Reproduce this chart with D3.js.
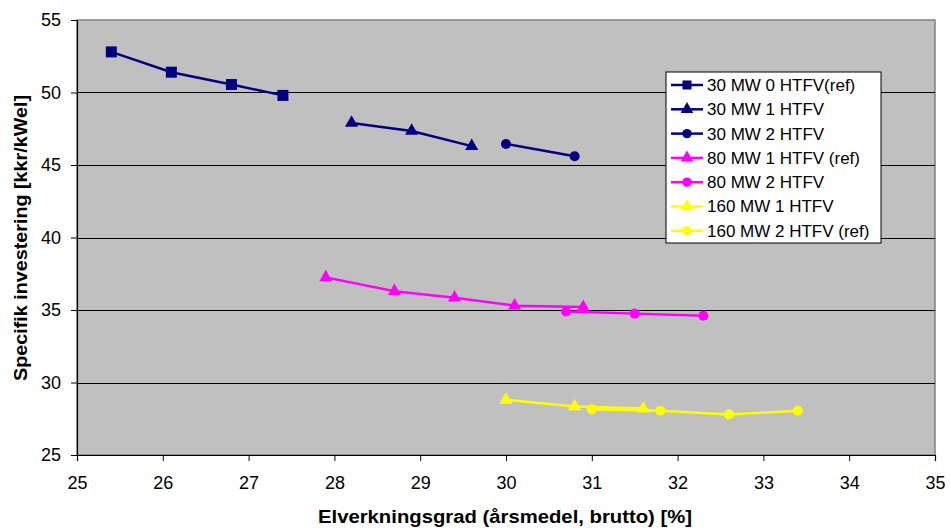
<!DOCTYPE html>
<head>
  <meta charset="utf-8">
  <title>Specifik investering</title>
  <style>
    body { margin: 0; background: #fff; }
    text { font-family: "Liberation Sans", Arial, sans-serif; }
  </style>
</head>
<body>
  <svg id="chart" width="950" height="530"></svg>
  <script src="https://d3js.org/d3.v7.min.js"></script>
  <script>
    /******* Data *******/
    var seriesNames = ["30 MW 0 HTFV(ref)", "30 MW 1 HTFV", "30 MW 2 HTFV",
                       "80 MW 1 HTFV (ref)", "80 MW 2 HTFV", "160 MW 1 HTFV", "160 MW 2 HTFV (ref)"];
    var seriesColors = ["#000080", "#000080", "#000080", "#FF00FF", "#FF00FF", "#FFFF00", "#FFFF00"];
    var seriesSymbols = ["square", "triangle", "circle", "triangle", "circle", "triangle", "circle"];

    var mw30_0 = [[25.4, 52.8], [26.1, 51.4], [26.8, 50.55], [27.4, 49.8]];
    var mw30_1 = [[28.2, 47.9], [28.9, 47.35], [29.6, 46.3]];
    var mw30_2 = [[30.0, 46.45], [30.8, 45.6]];
    var mw80_1 = [[27.9, 37.25], [28.7, 36.3], [29.4, 35.85], [30.1, 35.3], [30.9, 35.2]];
    var mw80_2 = [[30.7, 34.9], [31.5, 34.75], [32.3, 34.6]];
    var mw160_1 = [[30.0, 28.8], [30.8, 28.35], [31.6, 28.2]];
    var mw160_2 = [[31.0, 28.15], [31.8, 28.05], [32.6, 27.8], [33.4, 28.05]];
    var seriesData = [mw30_0, mw30_1, mw30_2, mw80_1, mw80_2, mw160_1, mw160_2];

    var xTicks = [25, 26, 27, 28, 29, 30, 31, 32, 33, 34, 35];
    var yTicks = [25, 30, 35, 40, 45, 50, 55];

    /******* Setup *******/
    var svg = d3.select("svg"),
        margin = {top: 20, right: 15, bottom: 75, left: 77},
        width = +svg.attr("width") - margin.left - margin.right,
        height = +svg.attr("height") - margin.top - margin.bottom,
        graph = svg.append("g").attr("transform", "translate(" + margin.left + "," + margin.top + ")");

    var x = d3.scaleLinear().domain([25, 35]).range([0, width]);
    var y = d3.scaleLinear().domain([25, 55]).range([height, 0]);

    //Plot background
    graph.append("rect")
      .attr("width", width)
      .attr("height", height)
      .attr("fill", "#C0C0C0")
      .attr("stroke", "#808080")
      .attr("stroke-width", 1.5);

    //Gridlines
    graph.append("g")
      .selectAll("line")
      .data(yTicks.slice(1, -1))
      .enter().append("line")
      .attr("x1", 0)
      .attr("x2", width)
      .attr("y1", function(d) { return Math.round(y(d)) + 0.5; })
      .attr("y2", function(d) { return Math.round(y(d)) + 0.5; })
      .attr("stroke", "#000")
      .attr("stroke-width", 1.2);

    //Axes
    var xAxis = graph.append("g")
      .attr("transform", "translate(0," + height + ")")
      .call(d3.axisBottom(x).tickValues(xTicks).tickSize(6).tickPadding(15).tickFormat(d3.format("d")));
    var yAxis = graph.append("g")
      .call(d3.axisLeft(y).tickValues(yTicks).tickSize(6).tickPadding(10).tickFormat(d3.format("d")));

    [xAxis, yAxis].forEach(function(a) {
      a.select(".domain").attr("stroke", "#000").attr("stroke-width", 1.2);
      a.selectAll(".tick line").attr("stroke", "#000");
      a.selectAll(".tick text")
        .attr("fill", "#000")
        .style("font", "18px 'Liberation Sans', Arial, sans-serif");
    });

    //Axis titles
    svg.append("text")
      .attr("x", 505)
      .attr("y", 523)
      .attr("text-anchor", "middle")
      .attr("textLength", 374)
      .attr("lengthAdjust", "spacingAndGlyphs")
      .style("font", "bold 18px 'Liberation Sans', Arial, sans-serif")
      .text("Elverkningsgrad (årsmedel, brutto) [%]");

    svg.append("text")
      .attr("transform", "translate(27,238) rotate(-90)")
      .attr("text-anchor", "middle")
      .attr("textLength", 286)
      .attr("lengthAdjust", "spacingAndGlyphs")
      .style("font", "bold 18px 'Liberation Sans', Arial, sans-serif")
      .text("Specifik investering [kkr/kWel]");

    /******* Series *******/
    var symbolType = {square: d3.symbolSquare, triangle: d3.symbolTriangle, circle: d3.symbolCircle};
    var symbolSize = {square: 121, triangle: 75, circle: 80};

    var line = d3.line()
      .x(function(d) { return x(d[0]); })
      .y(function(d) { return y(d[1]); });

    seriesData.forEach(function(data, i) {
      var g = graph.append("g");
      g.append("path")
        .datum(data)
        .attr("fill", "none")
        .attr("stroke", seriesColors[i])
        .attr("stroke-width", 2.5)
        .attr("d", line);
      g.selectAll("path.marker")
        .data(data)
        .enter().append("path")
        .attr("class", "marker")
        .attr("transform", function(d) { return "translate(" + x(d[0]) + "," + y(d[1]) + ")"; })
        .attr("d", d3.symbol().type(symbolType[seriesSymbols[i]]).size(symbolSize[seriesSymbols[i]]))
        .attr("fill", seriesColors[i]);
    });

    /******* Legend *******/
    var legend = svg.append("g").attr("transform", "translate(666,72)");
    legend.append("rect")
      .attr("width", 215)
      .attr("height", 171)
      .attr("fill", "#fff")
      .attr("stroke", "#000")
      .attr("stroke-width", 1);

    var items = legend.selectAll("g.item")
      .data(seriesNames)
      .enter().append("g")
      .attr("class", "item")
      .attr("transform", function(d, i) { return "translate(0," + (13 + i * 24.3) + ")"; });

    items.append("line")
      .attr("x1", 5).attr("x2", 37)
      .attr("stroke", function(d, i) { return seriesColors[i]; })
      .attr("stroke-width", 2.5);
    items.append("path")
      .attr("transform", "translate(21,0)")
      .attr("d", function(d, i) {
        var s = seriesSymbols[i];
        return d3.symbol().type(symbolType[s]).size(s == "square" ? 81 : 70)();
      })
      .attr("fill", function(d, i) { return seriesColors[i]; });
    items.append("text")
      .attr("x", 41)
      .attr("dy", "0.35em")
      .style("font", "17px 'Liberation Sans', Arial, sans-serif")
      .attr("fill", "#000")
      .text(function(d) { return d; });
  </script>
</body>
